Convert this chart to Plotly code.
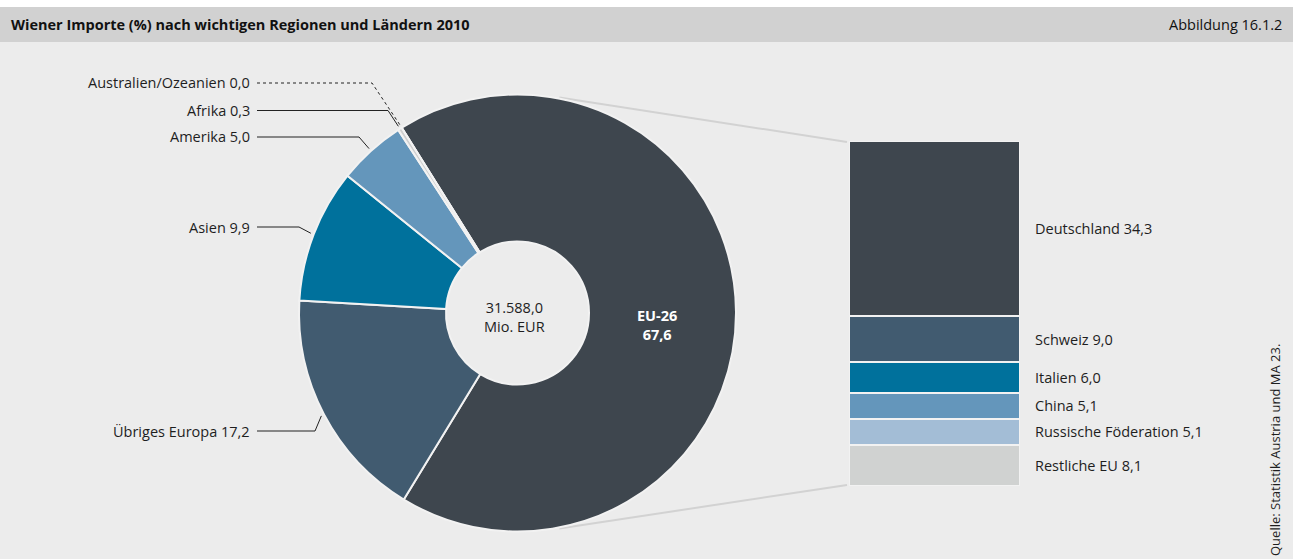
import math
import plotly.graph_objects as go

# Regions (donut) – shares in percent
regions = ["EU-26", "Übriges Europa", "Asien", "Amerika", "Afrika", "Australien/Ozeanien"]
region_values = [67.6, 17.2, 9.9, 5.0, 0.3, 0.0]
region_colors = ["#3e464e", "#415b70", "#00719c", "#6496bb", "#cfcfcf", "#cfcfcf"]

# Breakdown of EU-26 and main countries (stacked bar, top to bottom)
countries = ["Deutschland", "Schweiz", "Italien", "China", "Russische Föderation", "Restliche EU"]
country_values = [34.3, 9.0, 6.0, 5.1, 5.1, 8.1]
country_colors = ["#3e464e", "#415b70", "#00719c", "#6496bb", "#a3bdd6", "#d0d2d1"]

total_mio_eur = 31588.0

W, H = 1293, 559
FONT = "Open Sans"
FS = 14.5
TXT = "#1e1e1e"


def fx(x):
    return x / W


def fy(y):
    return 1 - y / H


def de(v, d=1):
    s = f"{v:,.{d}f}"
    return s.replace(",", "_").replace(".", ",").replace("_", ".")


# donut geometry (pixels)
CX, CY, R, R_HOLE = 517.5, 313.0, 218.5, 71.5
ROT = -32.0  # start angle of first slice, clockwise from 12 o'clock

fig = go.Figure()

fig.add_trace(go.Pie(
    labels=regions,
    values=region_values,
    sort=False,
    direction="clockwise",
    rotation=ROT,
    hole=R_HOLE / R,
    marker=dict(colors=region_colors, line=dict(color="#f2f2f2", width=2)),
    textinfo="none",
    hoverinfo="label+value",
    showlegend=False,
    domain=dict(x=[fx(CX - R), fx(CX + R)], y=[fy(CY + R), fy(CY - R)]),
))

# stacked bar, built bottom-up so the first country sits on top
for name, val, col in reversed(list(zip(countries, country_values, country_colors))):
    fig.add_trace(go.Bar(
        x=[0], y=[val], name=name, width=1,
        marker=dict(color=col, line=dict(color="#f2f2f2", width=2)),
        xaxis="x2", yaxis="y2", showlegend=False, hoverinfo="name+y",
    ))

BAR_L, BAR_R, BAR_T, BAR_B = 849, 1020, 141, 486
eu_total = sum(country_values)

shapes = []
annotations = []


def note(text, x, y, xanchor="center", yanchor="middle", size=FS, color=TXT, yref="paper", **kw):
    annotations.append(dict(text=text, x=x, y=y, xref="paper", yref=yref,
                            xanchor=xanchor, yanchor=yanchor, showarrow=False,
                            font=dict(family=FONT, size=size, color=color), **kw))


# top white strip and header band
shapes.append(dict(type="rect", xref="paper", yref="paper", x0=0, x1=1, y0=fy(7), y1=1,
                   fillcolor="white", line=dict(width=0), layer="below"))
shapes.append(dict(type="rect", xref="paper", yref="paper", x0=0, x1=1, y0=fy(42), y1=fy(7),
                   fillcolor="#d1d1d1", line=dict(width=0), layer="below"))
note("<b>Wiener Importe (%) nach wichtigen Regionen und Ländern 2010</b>", fx(9), fy(25),
     xanchor="left", color="#111")
note("Abbildung 16.1.2", fx(1284), fy(25), xanchor="right", color="#111")


def polar(angle_deg, r):
    a = math.radians(angle_deg)
    return CX + r * math.sin(a), CY - r * math.cos(a)


# connector lines from donut to bar
for ang, by in [(11, BAR_T + 1), (169, BAR_B - 1)]:
    px0, py0 = polar(ang, R + 1)
    shapes.append(dict(type="line", xref="paper", yref="paper",
                       x0=fx(px0), y0=fy(py0), x1=fx(BAR_L - 2), y1=fy(by),
                       line=dict(color="#d2d2d2", width=2), layer="below"))

# leader lines for the small/left regions
total = sum(region_values)
starts = {}
acc = ROT
for name, v in zip(regions, region_values):
    starts[name] = (acc, acc + 360 * v / total)
    acc += 360 * v / total

label_y = {"Australien/Ozeanien": 83, "Afrika": 110.5, "Amerika": 137, "Asien": 227, "Übriges Europa": 431}
elbow_x = {"Australien/Ozeanien": 372, "Afrika": 388, "Amerika": 359, "Asien": 299, "Übriges Europa": 315}
for name, v in zip(regions, region_values):
    if name not in label_y:
        continue
    a0, a1 = starts[name]
    ax, ay = polar((a0 + a1) / 2, R + 3)
    ly = label_y[name]
    dash = "dot" if v == 0 else "solid"
    path = f"M {fx(257)} {fy(ly)} L {fx(elbow_x[name])} {fy(ly)} L {fx(ax)} {fy(ay)}"
    shapes.append(dict(type="path", xref="paper", yref="paper", path=path,
                       line=dict(color="#222", width=1, dash=dash)))
    note(f"{name} {de(v)}", fx(252), fy(ly), xanchor="right")

# text inside the donut
note(f"{de(total_mio_eur)}<br>Mio. EUR", fx(514), fy(317), align="center")
note(f"<b>{regions[0]}<br>{de(region_values[0])}</b>", fx(657), fy(325), color="white", align="center")

# labels to the right of the bar
top = eu_total
for name, val in zip(countries, country_values):
    mid = top - val / 2
    note(f"{name} {de(val)}", fx(1033), mid, xanchor="left", yref="y2")
    top -= val

# source note
note("Quelle: Statistik Austria und MA 23.", fx(1275), fy(450), size=13, textangle=-90)

fig.update_layout(
    width=W, height=H,
    margin=dict(l=0, r=0, t=0, b=0),
    paper_bgcolor="#ececec",
    plot_bgcolor="rgba(0,0,0,0)",
    barmode="stack",
    xaxis2=dict(domain=[fx(BAR_L), fx(BAR_R)], range=[-0.5, 0.5], visible=False, fixedrange=True),
    yaxis2=dict(domain=[fy(BAR_B), fy(BAR_T)], range=[0, eu_total], visible=False, fixedrange=True,
                anchor="x2"),
    shapes=shapes,
    annotations=annotations,
)
fig.update_xaxes(visible=False)
fig.update_yaxes(visible=False)

fig.write_html("out.html")
